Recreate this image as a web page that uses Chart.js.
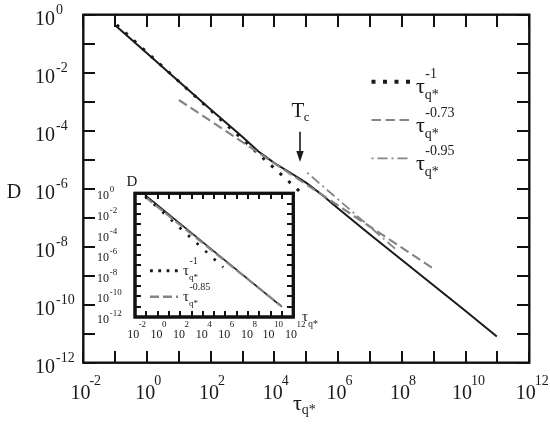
<!DOCTYPE html>
<html><head><meta charset="utf-8">
<script src="https://cdn.jsdelivr.net/npm/chart.js@4/dist/chart.umd.min.js"></script>
<style>
html,body{margin:0;padding:0;background:#fff;overflow:hidden}
#wrap{position:relative;width:550px;height:435px;background:#fff}
canvas{position:absolute;left:0;top:0}
</style></head><body>
<div id="wrap"><canvas id="main" width="550" height="435"></canvas><canvas id="inset" width="550" height="435"></canvas><canvas id="axes" width="550" height="435"></canvas></div>
<script>
// ---------- data ----------
const mainSolidTau = [1e-1, 1e0, 1e1, 1e2, 1e3, 3.16e3, 1e4, 3.16e4, 1e5, 3.16e5, 1e6, 1e7, 1e8, 1e9, 1e10, 9.55e10];
const mainSolidD   = [0.4365, 4.677e-2, 5.012e-3, 5.370e-4, 6.026e-5, 1.905e-5, 7.586e-6, 3.548e-6, 1.585e-6, 6.026e-7, 2.089e-7, 2.630e-8, 3.467e-9, 4.571e-10, 6.026e-11, 7.943e-12];
const mainFit1Tau = [1.12e-1, 7.94e4];
const mainFit1D   = [0.4467, 6.31e-7];
const mainFit073Tau = [1e1, 1.047e9];
const mainFit073D   = [1.148e-3, 1.660e-9];
const mainFit095Tau = [1.07e5, 6.31e7];
const mainFit095D   = [3.548e-6, 8.318e-9];
const insetSolidTau = [7.59e-2, 9.33e10];
const insetSolidD   = [0.6918, 1.0e-11];
const insetFit1Tau  = [7.94e-2, 6.31e5];
const insetFit1D    = [0.5248, 6.607e-8];
const insetFit085Tau = [7.94e-2, 8.91e10];
const insetFit085D   = [0.4467, 1.122e-11];
// tick positions / labels (exponents of 10)
const xLabelExps = [-2, 0, 2, 4, 6, 8, 10, 12];
const yLabelExps = [0, -2, -4, -6, -8, -10, -12];
const xMarkExps = [-2,-1,0,1,2,3,4,5,6,7,8,9,10,11,12];
const yMarkExps = [0,-1,-2,-3,-4,-5,-6,-7,-8,-9,-10,-11,-12];
const mainLegendExps = ['-1', '-0.73', '-0.95'];
const insetLegendExps = ['-1', '-0.85'];

const FONT = '"Liberation Serif", "Times New Roman", serif';
const INK = '#1a1a1a';
const GRAY = '#858585';

function pts(xs, ys){ return xs.map((x,i)=>({x:x, y:ys[i]})); }
function setFont(ctx, size){ ctx.font = size + 'px ' + FONT; }
function text(ctx, s, x, y, size, align){
  setFont(ctx, size); ctx.textAlign = align || 'left'; ctx.textBaseline = 'alphabetic';
  ctx.fillStyle = INK; ctx.fillText(s, x, y);
  return ctx.measureText(s).width;
}
function width(ctx, s, size){ setFont(ctx, size); return ctx.measureText(s).width; }
function sampleLine(ctx, x1, x2, y, color, w, dash){
  ctx.save(); ctx.strokeStyle = color; ctx.lineWidth = w; ctx.setLineDash(dash); ctx.lineCap='butt';
  ctx.beginPath(); ctx.moveTo(x1, y); ctx.lineTo(x2, y); ctx.stroke(); ctx.restore();
}
// frame + inward decade ticks, positions from the chart's own scales
function drawFrame(ctx, chart, lw, tl, tw){
  const a = chart.chartArea, xs = chart.scales.x, ys = chart.scales.y;
  ctx.save();
  ctx.setLineDash([]);
  ctx.fillStyle = '#111';
  xMarkExps.forEach(e=>{
    const px = Math.round(xs.getPixelForValue(Math.pow(10, e)));
    ctx.fillRect(px - tw/2, Math.round(a.top), tw, tl);
    ctx.fillRect(px - tw/2, Math.round(a.bottom) - tl, tw, tl);
  });
  yMarkExps.forEach(e=>{
    const py = Math.round(ys.getPixelForValue(Math.pow(10, e)));
    ctx.fillRect(Math.round(a.left), py - tw/2, tl, tw);
    ctx.fillRect(Math.round(a.right) - tl, py - tw/2, tl, tw);
  });
  ctx.strokeStyle = '#111'; ctx.lineWidth = lw;
  ctx.strokeRect(a.left, a.top, a.right - a.left, a.bottom - a.top);
  ctx.restore();
}

const mainDecor = {
  id: 'mainDecor',
  afterDraw(chart){
    const ctx = chart.ctx, xs = chart.scales.x, ys = chart.scales.y;
    drawFrame(ctx, chart, 2, 12, 2);
    xLabelExps.forEach(e=>{
      const px = xs.getPixelForValue(Math.pow(10, e));
      const es = String(e);
      const we = width(ctx, es, 14), wb = width(ctx, '10', 20);
      const cx = px - 0.25*we;
      text(ctx, '10', cx, 398.5, 20, 'center');
      text(ctx, es, cx + wb/2 - 1, 384.5, 14, 'left');
    });
    yLabelExps.forEach(e=>{
      const py = ys.getPixelForValue(Math.pow(10, e));
      const wb = text(ctx, '10', 35, py + 10, 20, 'left');
      text(ctx, String(e), 35 + wb + 1, py - 0.5, 14, 'left');
    });
    text(ctx, 'D', 14, 198, 20, 'center');
    const wt = text(ctx, '\u03C4', 293, 410, 22, 'left');
    text(ctx, 'q*', 293 + wt, 414, 14, 'left');
    const ly = [81.7, 120, 158.3];
    sampleLine(ctx, 371.5, 410, ly[0], INK, 4, [4, 7.5]);
    sampleLine(ctx, 371.5, 410, ly[1], GRAY, 2.2, [9.5, 4.5]);
    sampleLine(ctx, 371.5, 410, ly[2], GRAY, 1.8, [2, 4, 10, 4]);
    ly.forEach((y,i)=>{
      const w = text(ctx, '\u03C4', 416, y + 11.5, 22, 'left');
      text(ctx, mainLegendExps[i], 416 + w + 0.5, y - 3.5, 14, 'left');
      text(ctx, 'q*', 416 + w, y + 17.5, 14, 'left');
    });
    const tW = text(ctx, 'T', 291.5, 117, 21, 'left');
    text(ctx, 'c', 291.5 + tW - 0.5, 121, 13, 'left');
    ctx.save();
    ctx.strokeStyle = INK; ctx.fillStyle = INK; ctx.lineWidth = 1.6; ctx.setLineDash([]);
    ctx.beginPath(); ctx.moveTo(300, 131.7); ctx.lineTo(300, 154); ctx.stroke();
    ctx.beginPath(); ctx.moveTo(296.3, 151); ctx.lineTo(300, 162); ctx.lineTo(303.7, 151); ctx.closePath(); ctx.fill();
    ctx.restore();
  }
};

const logScale = (min, max)=>({ type:'logarithmic', min:min, max:max, display:false });

const mainChart = new Chart(document.getElementById('main'), {
  type: 'scatter',
  data: { datasets: [
    { data: pts(mainFit073Tau, mainFit073D), showLine:true, pointRadius:0, borderColor:GRAY, borderWidth:2.2, borderDash:[9.5,4.5] },
    { data: pts(mainFit095Tau, mainFit095D), showLine:true, pointRadius:0, borderColor:GRAY, borderWidth:1.8, borderDash:[2,4,10,4] },
    { data: pts(mainSolidTau, mainSolidD), showLine:true, pointRadius:0, borderColor:INK, borderWidth:2, tension:0 },
    { data: pts(mainFit1Tau, mainFit1D), showLine:true, pointRadius:0, borderColor:INK, borderWidth:3, borderDash:[3,8.6] }
  ]},
  options: {
    responsive:false, animation:false, devicePixelRatio:1,
    layout:{ padding:{ left:83.3, top:14.7, right:20.7, bottom:72.3 } },
    plugins:{ legend:{display:false}, tooltip:{enabled:false}, title:{display:false} },
    scales:{ x: logScale(1e-2, 1e12), y: logScale(1e-12, 1) }
  },
  plugins:[mainDecor]
});

const insetDecor = {
  id: 'insetDecor',
  beforeDatasetsDraw(chart){
    const ctx = chart.ctx, a = chart.chartArea;
    ctx.save(); ctx.fillStyle = '#fff'; ctx.fillRect(a.left, a.top, a.right-a.left, a.bottom-a.top); ctx.restore();
  },
  afterDraw(chart){
    const ctx = chart.ctx, xs = chart.scales.x, ys = chart.scales.y;
    drawFrame(ctx, chart, 3, 6, 2);
    xLabelExps.forEach(e=>{
      const px = xs.getPixelForValue(Math.pow(10, e));
      const es = String(e);
      const we = width(ctx, es, 9), wb = width(ctx, '10', 12);
      const cx = px - 0.25*we;
      text(ctx, '10', cx, 337.5, 12, 'center');
      text(ctx, es, cx + wb/2 - 0.5, 326.5, 9, 'left');
    });
    yLabelExps.forEach(e=>{
      const py = ys.getPixelForValue(Math.pow(10, e));
      const wb = text(ctx, '10', 97, py + 6, 12, 'left');
      text(ctx, String(e), 97 + wb + 0.8, py - 1, 9, 'left');
    });
    text(ctx, 'D', 126.5, 185.5, 15, 'left');
    const wt = text(ctx, '\u03C4', 302, 321, 15, 'left');
    text(ctx, 'q*', 302 + wt, 327, 10, 'left');
    sampleLine(ctx, 150, 178, 270.7, INK, 3, [2.8, 5.5]);
    sampleLine(ctx, 150, 178, 296.7, GRAY, 2.5, [9, 4]);
    [275, 301].forEach((y,i)=>{
      const w = text(ctx, '\u03C4', 183, y, 15, 'left');
      text(ctx, insetLegendExps[i], 183 + w + 0.5, y - 11, 10, 'left');
      text(ctx, 'q*', 183 + w, y + 5, 9, 'left');
    });
  }
};

const insetChart = new Chart(document.getElementById('inset'), {
  type: 'scatter',
  data: { datasets: [
    { data: pts(insetFit085Tau, insetFit085D), showLine:true, pointRadius:0, borderColor:GRAY, borderWidth:2.2, borderDash:[9,4] },
    { data: pts(insetSolidTau, insetSolidD), showLine:true, pointRadius:0, borderColor:INK, borderWidth:1.6 },
    { data: pts(insetFit1Tau, insetFit1D), showLine:true, pointRadius:0, borderColor:INK, borderWidth:2.6, borderDash:[2.6, 9] }
  ]},
  options: {
    responsive:false, animation:false, devicePixelRatio:1,
    layout:{ padding:{ left:135, top:193.3, right:256.7, bottom:118 } },
    plugins:{ legend:{display:false}, tooltip:{enabled:false}, title:{display:false} },
    scales:{ x: logScale(1e-2, 1e12), y: logScale(1e-12, 1) }
  },
  plugins:[insetDecor]
});

// tick marks again on a top overlay canvas, from the charts' scales
const axCtx = document.getElementById('axes').getContext('2d');
drawFrame(axCtx, mainChart, 2, 12, 2);
drawFrame(axCtx, insetChart, 3, 6, 2);
</script>
</body></html>
